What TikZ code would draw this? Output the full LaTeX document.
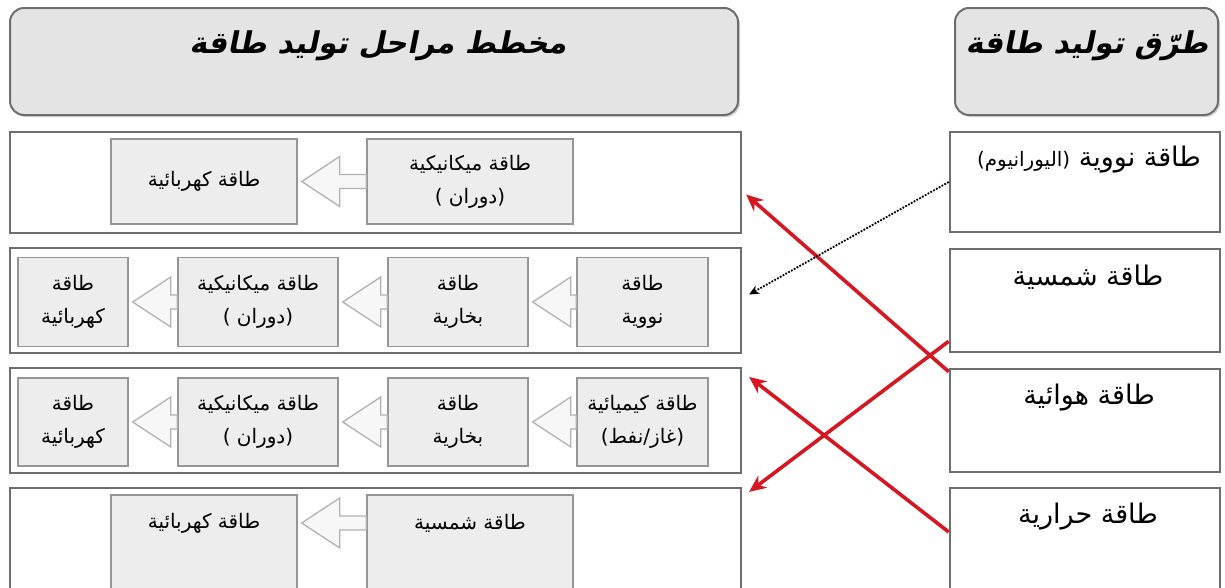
\documentclass[tikz,border=0pt]{standalone}
\usepackage{fontspec}
\usetikzlibrary{calc,arrows.meta,shadows}
\TeXXeTstate=1
\newfontfamily\arabicfont[Script=Arabic]{DejaVu Sans}
\newfontfamily\arabichead[Script=Arabic,FakeSlant=0.2]{DejaVu Sans Bold}
\definecolor{framegray}{RGB}{110,110,110}
\definecolor{boxgray}{RGB}{237,237,237}
\definecolor{boxedge}{RGB}{150,150,150}
\definecolor{hdrfill}{RGB}{228,228,228}
\definecolor{arrred}{RGB}{214,22,32}
\newcommand\blkarrow[2]{%
  \draw[blk] ($(#1.east)+(4,0)$) -- ++(38,-25) -- ++(0,18) -- ($(#2.west)+(0,-7)$)
    -- ($(#2.west)+(0,7)$) -- ($(#1.east)+(42,7)$) -- ++(0,18) -- cycle;}
\tikzset{
  hdr/.style={draw=framegray, line width=2pt, fill=hdrfill, rounded corners=14pt, inner sep=0pt,
    drop shadow={shadow xshift=2pt, shadow yshift=-2pt, opacity=0.35}},
  hdrtext/.style={font=\arabichead\fontsize{30}{36}\selectfont, text=black, inner sep=0pt},
  rowbox/.style={draw=framegray, line width=2.2pt, fill=white, inner sep=0pt},
  rbox/.style={draw=framegray, line width=2.6pt, fill=white, inner sep=0pt},
  inbox/.style={draw=boxedge, line width=1.4pt, fill=boxgray, inner sep=0pt, align=center,
    font=\arabicfont\fontsize{20}{33}\selectfont},
  intext/.style={inner sep=0pt, align=center, font=\arabicfont\fontsize{20}{33}\selectfont},
  rtext/.style={inner sep=0pt, font=\arabicfont\fontsize{27}{30}\selectfont},
  blk/.style={draw=gray!60, line width=1.3pt, fill=gray!6},
  redarr/.style={draw=arrred, line width=3.6pt, -{Stealth[length=17pt,width=15pt]}},
  dotarr/.style={draw=black, line width=1.8pt, dash pattern=on 1.8pt off 1.4pt, -{Stealth[length=10pt,width=9pt]}}
}
\begin{document}
\begin{tikzpicture}[x=1pt,y=-1pt]
\useasboundingbox[fill=white] (0,0) rectangle (1225,587);

% headers
\node[hdr, minimum width=728, minimum height=107] (h1) at (374,61.5) {};
\node[hdr, minimum width=263, minimum height=107] (h2) at (1086.5,61.5) {};
\node[hdrtext] (h1t) at (378,46) {\beginR مخطط مراحل توليد طاقة\endR};
\node[hdrtext] (h2t) at (1087,46) {\beginR طرّق توليد طاقة\endR};

% left rows
\node[rowbox, minimum width=731, minimum height=101] (r1) at (375.5,182.5) {};
\node[rowbox, minimum width=731, minimum height=105] (r2) at (375.5,300.5) {};
\node[rowbox, minimum width=731, minimum height=105] (r3) at (375.5,420.5) {};
\node[rowbox, minimum width=731, minimum height=124] (r4) at (375.5,550) {};

% right boxes
\node[rbox, minimum width=270, minimum height=100] (b1) at (1085,182) {};
\node[rbox, minimum width=270, minimum height=103] (b2) at (1085,300.5) {};
\node[rbox, minimum width=270, minimum height=103] (b3) at (1085,420.5) {};
\node[rbox, minimum width=270, minimum height=124] (b4) at (1085,550) {};
\node[rtext] (b1t) at (1089,160) {\beginR طاقة نووية {\fontsize{20}{22}\selectfont(اليورانيوم)}\endR};
\node[rtext] (b2t) at (1088,277) {\beginR طاقة شمسية\endR};
\node[rtext] (b3t) at (1089,398) {\beginR طاقة هوائية\endR};
\node[rtext] (b4t) at (1088,517) {\beginR طاقة حرارية\endR};

% row 1
\node[inbox, minimum width=186, minimum height=85] (e1) at (204,181.5) {\beginR طاقة كهربائية\endR};
\node[inbox, minimum width=206, minimum height=85] (m1) at (470,181.5) {\beginR طاقة ميكانيكية\endR\\\beginR(دوران )\endR};
\blkarrow{e1}{m1}

% row 2
\node[inbox, minimum width=110, minimum height=89] (e2) at (73,302) {\beginR طاقة\endR\\\beginR كهربائية\endR};
\node[inbox, minimum width=160, minimum height=89] (m2) at (258,302) {\beginR طاقة ميكانيكية\endR\\\beginR(دوران )\endR};
\node[inbox, minimum width=140, minimum height=89] (s2) at (458,302) {\beginR طاقة\endR\\\beginR بخارية\endR};
\node[inbox, minimum width=131, minimum height=89] (n2) at (642.5,302) {\beginR طاقة\endR\\\beginR نووية\endR};
\blkarrow{e2}{m2}
\blkarrow{m2}{s2}
\blkarrow{s2}{n2}

% row 3
\node[inbox, minimum width=110, minimum height=88] (e3) at (73,422) {\beginR طاقة\endR\\\beginR كهربائية\endR};
\node[inbox, minimum width=160, minimum height=88] (m3) at (258,422) {\beginR طاقة ميكانيكية\endR\\\beginR(دوران )\endR};
\node[inbox, minimum width=140, minimum height=88] (s3) at (458,422) {\beginR طاقة\endR\\\beginR بخارية\endR};
\node[inbox, minimum width=131, minimum height=88] (c3) at (642.5,422) {\beginR طاقة كيميائية\endR\\\beginR(غاز/نفط)\endR};
\blkarrow{e3}{m3}
\blkarrow{m3}{s3}
\blkarrow{s3}{c3}

% row 4
\node[inbox, minimum width=186, minimum height=110] (e4) at (204,550) {};
\node[inbox, minimum width=206, minimum height=110] (p4) at (470,550) {};
\node[intext] (e4t) at (204,523) {\beginR طاقة كهربائية\endR};
\node[intext] (p4t) at (470,523) {\beginR طاقة شمسية\endR};
\draw[blk] ($(e4.east)+(4,-27)$) coordinate (a4tip) -- ++(38,-25) -- ++(0,18) -- ($(p4.west)+(0,-34)$)
    -- ($(p4.west)+(0,-20)$) -- ($(e4.east)+(42,-20)$) -- ++(0,18) -- cycle;

% connectors
\coordinate (aA) at ($(b3.north west)+(0,4)$);
\coordinate (aB) at ($(b2.south west)+(0,-12)$);
\coordinate (aC) at ($(b4.west)+(0,-18)$);
\draw[redarr] (aA) -- ($(r1.east)+(4,12)$);
\draw[redarr] (aB) -- ($(r4.north east)+(7,5)$);
\draw[redarr] (aC) -- ($(r3.north east)+(7,10)$);
\draw[dotarr] (b1.west) -- ($(r2.east)+(7,-6)$);
\end{tikzpicture}
\end{document}
